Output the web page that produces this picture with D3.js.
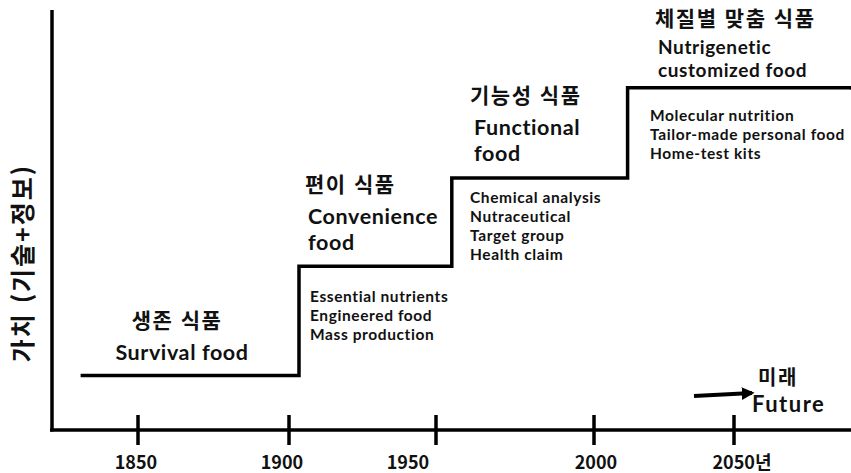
<!DOCTYPE html>
<html lang="ko">
<head>
<meta charset="UTF-8">
<title>식품의 발전 단계</title>
<script src="https://d3js.org/d3.v7.min.js"></script>
<style>
    body { margin: 0; background: #fff; }
    text { font-family: "Noto Sans CJK KR", "Noto Sans", sans-serif; font-weight: 700; fill: #111; }
    .en { font-family: Lato, "Noto Sans", sans-serif; }
    .ko { letter-spacing: 1.5px; }
    .step { fill: none; stroke: #000; stroke-width: 3.5; }
    .axis { stroke: #000; stroke-width: 3.5; }
</style>
</head>
<body>
<svg id="chart" width="851" height="473"></svg>
<script>
    // 연도 눈금
    const tickYears = [1850, 1900, 1950, 2000, 2050];
    const tickLabels = ["1850", "1900", "1950", "2000", "2050년"];

    // 단계 (시작 연도, 가치 수준)
    const stepYears = [1831, 1903.4, 1955, 2012, 2092];
    const stepValues = [1.3, 3.9, 6.0, 8.15, 8.1];

    const stageKo = ["생존 식품", "편이 식품", "기능성 식품", "체질별 맞춤 식품"];
    const stageEn = [["Survival food"], ["Convenience", "food"], ["Functional", "food"], ["Nutrigenetic", "customized food"]];
    const stageNotes = [
        [],
        ["Essential nutrients", "Engineered food", "Mass production"],
        ["Chemical analysis", "Nutraceutical", "Target group", "Health claim"],
        ["Molecular nutrition", "Tailor-made personal food", "Home-test kits"]
    ];

    const yLabel = "가치 (기술+정보)";
    const futureLabel = ["미래", "Future"];

    const svg = d3.select("#chart");

    // 축 눈금 간격이 고르지 않아 구간별 선형 스케일 사용
    const x = d3.scaleLinear()
        .domain(tickYears)
        .range([138, 289, 436, 594, 734]);

    const y = d3.scaleLinear()
        .domain([0, 10])
        .range([430, 10]);

    // 축선
    svg.append("line").attr("class", "axis")
        .attr("x1", 52).attr("x2", 52).attr("y1", y(10)).attr("y2", y(0) + 1.5);
    svg.append("line").attr("class", "axis")
        .attr("x1", 50).attr("x2", 851).attr("y1", y(0)).attr("y2", y(0));

    // 눈금
    svg.selectAll(".tick").data(tickYears).join("line")
        .attr("class", "axis")
        .attr("x1", d => x(d)).attr("x2", d => x(d))
        .attr("y1", y(0) - 15).attr("y2", y(0) + 15);

    const labelShift = { 1900: -7, 1950: -28, 2000: 2, 2050: 8 };
    svg.selectAll(".tlab").data(tickYears).join("text")
        .attr("x", d => x(d) + (labelShift[d] || -2))
        .attr("y", 469)
        .attr("text-anchor", "middle")
        .attr("font-size", 18)
        .text((d, i) => tickLabels[i]);

    // 계단선
    const stepData = stepYears.map((yr, i) => ({ yr, v: stepValues[i] }));
    svg.append("path")
        .datum(stepData)
        .attr("class", "step")
        .attr("d", d3.line()
            .x(d => x(d.yr))
            .y(d => y(d.v))
            .curve(d3.curveStepAfter));

    // y축 제목
    svg.append("text")
        .attr("transform", "translate(32,263) rotate(-90)")
        .attr("text-anchor", "middle")
        .attr("font-size", 25)
        .attr("letter-spacing", 2)
        .text(yLabel);

    // 단계별 라벨
    const labelPos = [
        { ko: [177, 328, "middle"], en: [182, 360, "middle"], gap: 26 },
        { ko: [305, 192, "start"], en: [308, 224, "start"], gap: 26, notes: [310, 302] },
        { ko: [470, 103, "start"], en: [474, 135, "start"], gap: 26, notes: [470, 203] },
        { ko: [655, 26, "start"], en: [658, 54, "start"], gap: 23, notes: [650, 121] }
    ];

    stageKo.forEach((k, i) => {
        const p = labelPos[i];
        svg.append("text")
            .attr("class", "ko")
            .attr("x", p.ko[0]).attr("y", p.ko[1])
            .attr("text-anchor", p.ko[2])
            .attr("font-size", 21)
            .text(k);

        const en = svg.append("text")
            .attr("class", "en")
            .attr("x", p.en[0]).attr("y", p.en[1])
            .attr("text-anchor", p.en[2])
            .attr("font-size", i === 3 ? 19 : 21.5)
            .attr("letter-spacing", 0.6);
        en.selectAll("tspan").data(stageEn[i]).join("tspan")
            .attr("x", p.en[0])
            .attr("dy", (d, j) => j ? p.gap : 0)
            .text(d => d);

        if (stageNotes[i].length) {
            const notes = svg.append("text")
                .attr("class", "en")
                .attr("x", p.notes[0]).attr("y", p.notes[1])
                .attr("font-size", 15.5)
                .attr("letter-spacing", 0.6);
            notes.selectAll("tspan").data(stageNotes[i]).join("tspan")
                .attr("x", p.notes[0])
                .attr("dy", (d, j) => j ? 19 : 0)
                .text(d => d);
        }
    });

    // 미래 화살표
    svg.append("defs").append("marker")
        .attr("id", "arrow")
        .attr("viewBox", "0 0 10 10")
        .attr("refX", 8).attr("refY", 5)
        .attr("markerWidth", 3.2).attr("markerHeight", 3.2)
        .attr("orient", "auto")
        .append("path").attr("d", "M0,0L10,5L0,10Z").attr("fill", "#000");

    svg.append("line")
        .attr("x1", 694).attr("y1", 396).attr("x2", 752).attr("y2", 393)
        .attr("stroke", "#000").attr("stroke-width", 4)
        .attr("marker-end", "url(#arrow)");

    svg.append("text").attr("class", "ko").attr("x", 758).attr("y", 385)
        .attr("font-size", 20).text(futureLabel[0]);
    svg.append("text").attr("class", "en").attr("x", 752).attr("y", 412)
        .attr("font-size", 22).attr("letter-spacing", 1.5).text(futureLabel[1]);
</script>
</body>
</html>
